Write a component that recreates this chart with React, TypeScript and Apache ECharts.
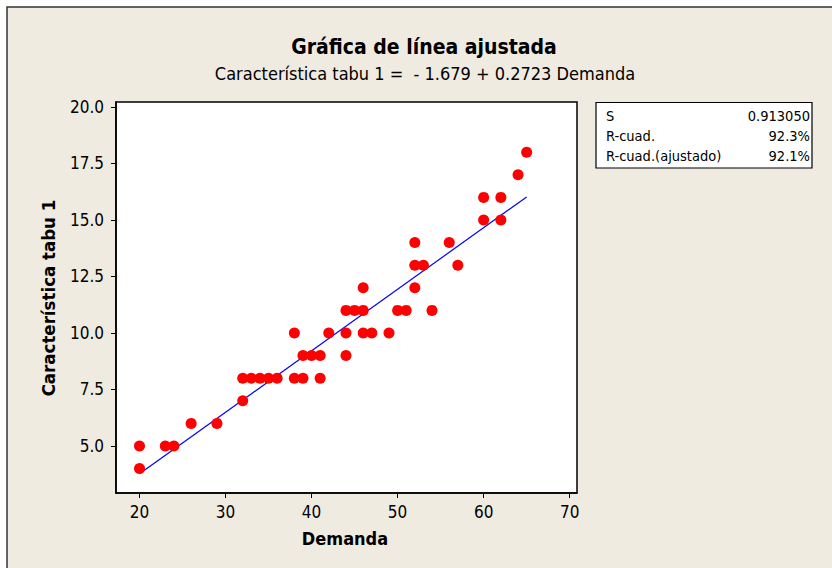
import React, { useEffect, useRef } from "react";
import * as echarts from "echarts";

const demanda: number[] = [20, 20, 23, 24, 26, 29, 32, 32, 33, 34, 35, 36, 38, 38, 39, 39, 40, 41, 41, 42, 44, 44, 44, 45, 46, 46, 46, 47, 49, 50, 51, 52, 52, 53, 52, 54, 56, 57, 60, 60, 62, 62, 64, 65];
const caracteristica: number[] = [5, 4, 5, 5, 6, 6, 7, 8, 8, 8, 8, 8, 10, 8, 8, 9, 9, 9, 8, 10, 11, 10, 9, 11, 11, 12, 10, 10, 10, 11, 11, 12, 13, 13, 14, 11, 14, 13, 16, 15, 16, 15, 17, 18];
const fitX: number[] = [20, 65];
const fitY: number[] = [3.767, 16.02];
const xTicks: number[] = [20, 30, 40, 50, 60, 70];
const yTicks: number[] = [5, 7.5, 10, 12.5, 15, 17.5, 20];
const statLabels: string[] = ["S", "R-cuad.", "R-cuad.(ajustado)"];
const statValues: string[] = ["0.913050", "92.3%", "92.1%"];

const FONT = "'DejaVu Sans Condensed', 'Liberation Sans Narrow', sans-serif";

export default function App() {
  const ref = useRef<HTMLDivElement>(null);
  useEffect(() => {
    if (!ref.current) return;
    const chart = echarts.init(ref.current, null, { renderer: "svg" });
    const statTexts: any[] = [];
    statLabels.forEach((l, i) => {
      statTexts.push({
        type: "text", x: 606, y: 116 + i * 20,
        style: { text: l, font: `14.5px ${FONT}`, fill: "#000", verticalAlign: "middle" },
      });
      statTexts.push({
        type: "text", x: 810, y: 116 + i * 20,
        style: { text: statValues[i], font: `14.5px ${FONT}`, fill: "#000", align: "right", verticalAlign: "middle" },
      });
    });
    chart.setOption({
      animation: false,
      textStyle: { fontFamily: FONT },
      graphic: [
        {
          type: "rect", z: -10, silent: true,
          shape: { x: 7, y: 7, width: 840, height: 580 },
          style: { fill: "#EFEBE1", stroke: "#333", lineWidth: 1.5 },
        },
        {
          type: "rect", shape: { x: 596, y: 102.5, width: 216, height: 65.5 },
          style: { fill: "#fff", stroke: "#000", lineWidth: 1.2 },
        },
        ...statTexts,
        {
          type: "text", x: 48, y: 298, rotation: Math.PI / 2,
          style: { text: "Característica tabu 1", font: `bold 18.5px ${FONT}`, fill: "#000", align: "center", verticalAlign: "middle" },
        },
        {
          type: "text", x: 345, y: 538,
          style: { text: "Demanda", font: `bold 18px ${FONT}`, fill: "#000", align: "center", verticalAlign: "middle" },
        },
        {
          type: "text", x: 424, y: 47,
          style: { text: "Gráfica de línea ajustada", font: `bold 21px ${FONT}`, fill: "#000", align: "center", verticalAlign: "middle" },
        },
        {
          type: "text", x: 425, y: 73,
          style: { text: "Característica tabu 1 =  - 1.679 + 0.2723 Demanda", font: `18px ${FONT}`, fill: "#000", align: "center", verticalAlign: "middle" },
        },
      ],
      grid: { left: 116, top: 102, width: 461, height: 391, show: true, backgroundColor: "#fff", borderColor: "#000", borderWidth: 1.5 },
      xAxis: {
        type: "value", min: 17.27, max: 70.85,
        axisLine: { show: true, onZero: false, lineStyle: { color: "#000", width: 1.5 } },
        axisTick: { show: true, length: 5, customValues: xTicks, lineStyle: { color: "#000", width: 1 } },
        axisLabel: { customValues: xTicks, fontFamily: FONT, fontSize: 17, color: "#000", margin: 10 },
        splitLine: { show: false },
      },
      yAxis: {
        type: "value", min: 2.92, max: 20.22,
        axisLine: { show: true, onZero: false, lineStyle: { color: "#000", width: 1.5 } },
        axisTick: { show: true, length: 5, customValues: yTicks, lineStyle: { color: "#000", width: 1 } },
        axisLabel: { customValues: yTicks, fontFamily: FONT, fontSize: 17, color: "#000", margin: 12, formatter: (v: number) => v.toFixed(1) },
        splitLine: { show: false },
      },
      series: [
        {
          type: "line", data: fitX.map((x, i) => [x, fitY[i]]), symbol: "none",
          lineStyle: { color: "#0000FF", width: 1.2 }, z: 2,
        },
        {
          type: "scatter", data: demanda.map((x, i) => [x, caracteristica[i]]),
          symbol: "circle", symbolSize: 11, itemStyle: { color: "#FF0000", opacity: 1 }, z: 3,
        },
      ],
    });
    return () => chart.dispose();
  }, []);
  return <div ref={ref} style={{ position: "fixed", left: 0, top: 0, width: 832, height: 568, background: "#fff" }} />;
}
